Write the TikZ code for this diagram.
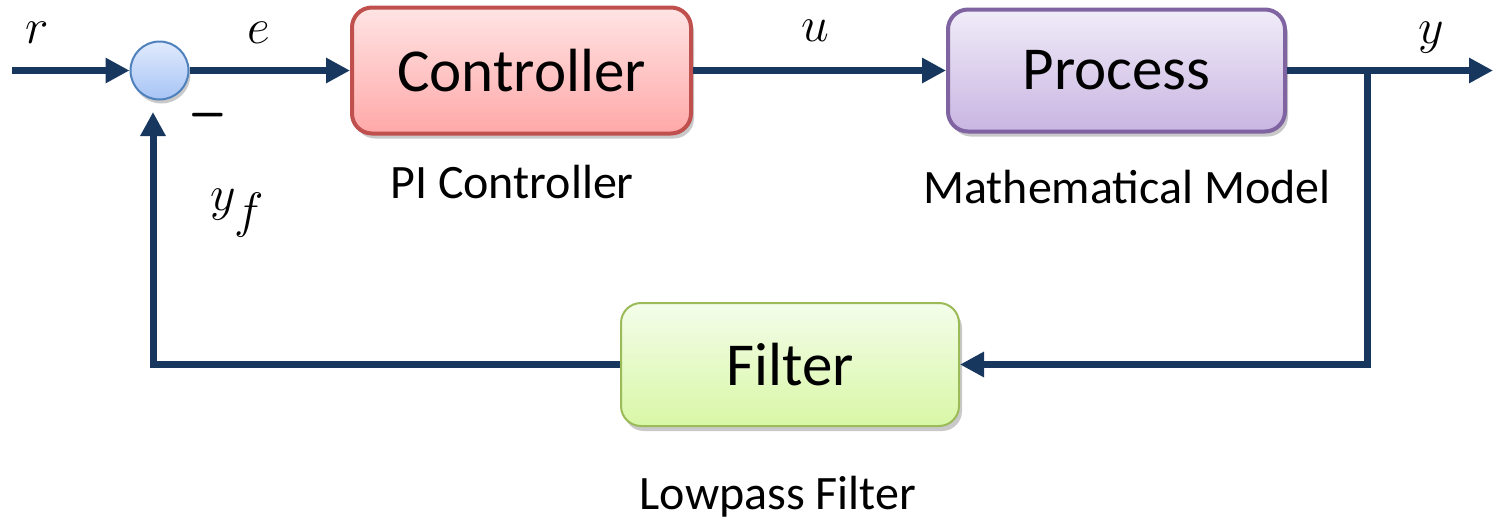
\documentclass[tikz,border=0pt]{standalone}
\usepackage{fontspec}
\setmainfont{Carlito}
\usetikzlibrary{arrows.meta,shadows,calc}
\definecolor{navy}{HTML}{17375E}
\definecolor{ctrlbd}{HTML}{C0504D}
\definecolor{ctrltop}{HTML}{FFE4E4}
\definecolor{ctrlbot}{HTML}{FFA8A8}
\definecolor{procbd}{HTML}{8064A2}
\definecolor{proctop}{HTML}{F0ECF8}
\definecolor{procbot}{HTML}{C9B5E2}
\definecolor{filtbd}{HTML}{9BBB59}
\definecolor{filttop}{HTML}{F4FDEA}
\definecolor{filtbot}{HTML}{D8F7A6}
\definecolor{sumbd}{HTML}{4F81BD}
\definecolor{sumtop}{HTML}{E0EAFC}
\definecolor{sumbot}{HTML}{A6C4F5}
\tikzset{
  sig/.style={line width=3.5pt, draw=navy, -{Triangle[length=12pt,width=12pt]}},
  blk/.style={rounded corners=10pt, font=\fontsize{30.5}{36}\selectfont,
    drop shadow={opacity=0.3, shadow xshift=1.5pt, shadow yshift=-2.5pt, fill=black!70}},
  sublbl/.style={font=\fontsize{24}{29}\selectfont, inner sep=0pt},
  mlbl/.style={font=\fontsize{34}{40}\selectfont, inner sep=0pt},
}
\begin{document}
\begin{tikzpicture}[x=0.5pt,y=-0.5pt]
\useasboundingbox (0,0) rectangle (1496,521);
% blocks
\node[blk, draw=ctrlbd, line width=2pt, top color=ctrltop, bottom color=ctrlbot,
  minimum width=169.5pt, minimum height=63pt] (ctrl) at (521.5,70.5) {Controller};
\node[blk, draw=procbd, line width=2pt, top color=proctop, bottom color=procbot,
  minimum width=168.5pt, minimum height=61pt] (proc) at (1116.5,70.5) {Process};
\node[blk, draw=filtbd, line width=1pt, top color=filttop, bottom color=filtbot,
  minimum width=169pt, minimum height=61.5pt] (filt) at (790,364.5) {Filter};
\node[circle, draw=sumbd, line width=1pt, top color=sumtop, bottom color=sumbot,
  minimum size=29pt, inner sep=0pt,
  drop shadow={opacity=0.3, shadow xshift=1pt, shadow yshift=-2pt, fill=black!70}] (sum) at (159.5,70.5) {};
% coordinates
\coordinate (in) at (12,70.5);
\coordinate (out) at (1493,70.5);
\coordinate (br) at (1367,70.5);
\coordinate (fb) at (153,112);
% connectors
\draw[sig] (in) -- (sum.west);
\draw[sig] (sum.east) -- (ctrl.west);
\draw[sig] (ctrl.east) -- (proc.west);
\draw[sig] (proc.east) -- (out);
\draw[sig] (br) |- (filt.east);
\draw[sig] (filt.west) -| (fb);
% labels
\node[mlbl] (lr) at (37,33) {$r$};
\node[mlbl] (le) at (259,33) {$e$};
\node[mlbl] (lu) at (815,31) {$u$};
\node[mlbl] (ly) at (1431,38) {$y$};
\node[mlbl] (lyf) at (238,213) {$y_f$};
\node[font=\fontsize{30}{36}\selectfont, inner sep=0pt] (minus) at (208,115) {\scalebox{1}[1.8]{$-$}};
\node[sublbl] (lpi) at (512,182) {PI Controller};
\node[sublbl] (lmm) at (1127,187) {Mathematical Model};
\node[sublbl] (llp) at (778,497) {Lowpass Filter};
\end{tikzpicture}
\end{document}
